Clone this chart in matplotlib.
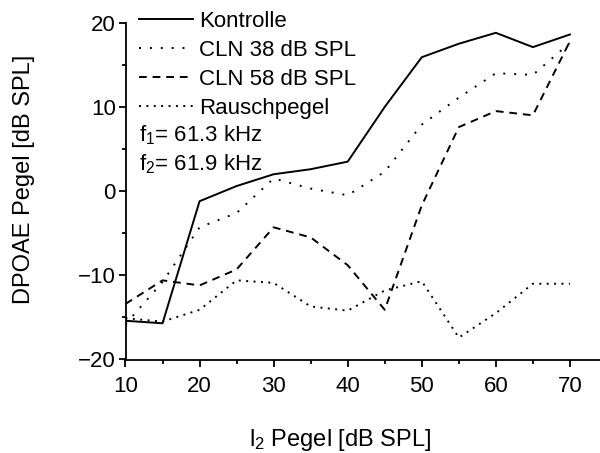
import matplotlib
matplotlib.use("Agg")
import matplotlib.pyplot as plt
from matplotlib.ticker import MultipleLocator


plt.rcParams["font.family"] = ["Liberation Sans", "DejaVu Sans"]
plt.rcParams["mathtext.fontset"] = "custom"
plt.rcParams["mathtext.rm"] = "Liberation Sans"
plt.rcParams["mathtext.it"] = "Liberation Sans"


# I2 level [dB SPL]
L2 = [10, 15, 20, 25, 30, 35, 40, 45, 50, 55, 60, 65, 70]

KONTROLLE = [-15.4, -15.7, -1.2, 0.6, 2.0, 2.6, 3.5, 10.0, 15.9, 17.5, 18.8, 17.1, 18.6]
CLN_38 = [-15.8, -10.8, -4.3, -2.6, 1.5, 0.3, -0.5, 2.3, 7.9, 11.1, 14.0, 13.8, 17.6]
CLN_58 = [-13.4, -10.6, -11.2, -9.3, -4.3, -5.5, -8.8, -14.1, -1.7, 7.6, 9.5, 9.0, 17.8]
RAUSCHPEGEL = [-15.1, -15.5, -14.1, -10.6, -10.9, -13.7, -14.2, -11.8, -10.7, -17.4, -14.5, -11.0, -11.0]

LABELS = ["Kontrolle", "CLN 38 dB SPL", "CLN 58 dB SPL", "Rauschpegel"]


def plot_dpoae():

    fig = plt.figure(figsize=(6, 4.53), dpi=100)
    ax = fig.add_axes([125.5 / 600, 1 - 359.5 / 453, 474.5 / 600, (359.5 - 22.7) / 453])

    lw = 1.4
    ax.plot(L2, KONTROLLE, color="black", lw=lw, ls="-", label=LABELS[0])
    ax.plot(L2, CLN_38, color="black", lw=lw, ls=(0, (1, 4.6)), label=LABELS[1])
    ax.plot(L2, CLN_58, color="black", lw=lw, ls=(0, (4, 3)), label=LABELS[2])
    ax.plot(L2, RAUSCHPEGEL, color="black", lw=lw, ls=(0, (1, 2.8)), label=LABELS[3])

    ax.set_xlim(10, 10 + 474.5 / 7.407)
    ax.set_ylim(-20, 20)

    ax.xaxis.set_major_locator(MultipleLocator(10))
    ax.xaxis.set_minor_locator(MultipleLocator(5))
    ax.yaxis.set_major_locator(MultipleLocator(10))
    ax.yaxis.set_minor_locator(MultipleLocator(5))

    for side in ["top", "right"]:
        ax.spines[side].set_visible(False)
    for side in ["left", "bottom"]:
        ax.spines[side].set_linewidth(1.3)

    ax.tick_params(which="major", direction="out", length=5, width=1.3, labelsize=16)
    ax.tick_params(axis="x", which="major", pad=7)
    ax.tick_params(axis="y", which="major", pad=2)
    ax.tick_params(which="minor", direction="out", length=3, width=1.3)

    ax.set_xlabel("l$_2$ Pegel [dB SPL]", fontsize=17)
    ax.set_ylabel("DPOAE Pegel [dB SPL]", fontsize=17)
    # label centres, in figure pixels
    ax.xaxis.set_label_coords(340 / 600, 1 - 440 / 453, transform=fig.transFigure)
    ax.yaxis.set_label_coords(24 / 600, 1 - 179 / 453, transform=fig.transFigure)
    ax.xaxis.label.set_va("center")
    ax.yaxis.label.set_va("center")

    ax.legend(loc="upper left", bbox_to_anchor=(0.028, 1.035), frameon=False,
              fontsize=16, handlelength=2.43, handletextpad=0.27,
              labelspacing=0.36, borderpad=0, borderaxespad=0)

    ax.text(139 / 600, 1 - 135 / 453, "f$_1$= 61.3 kHz", fontsize=16, va="center", ha="left",
            transform=fig.transFigure)
    ax.text(139 / 600, 1 - 164 / 453, "f$_2$= 61.9 kHz", fontsize=16, va="center", ha="left",
            transform=fig.transFigure)

    fig.savefig("out.png", dpi=100)


if __name__ == "__main__":
    plot_dpoae()
